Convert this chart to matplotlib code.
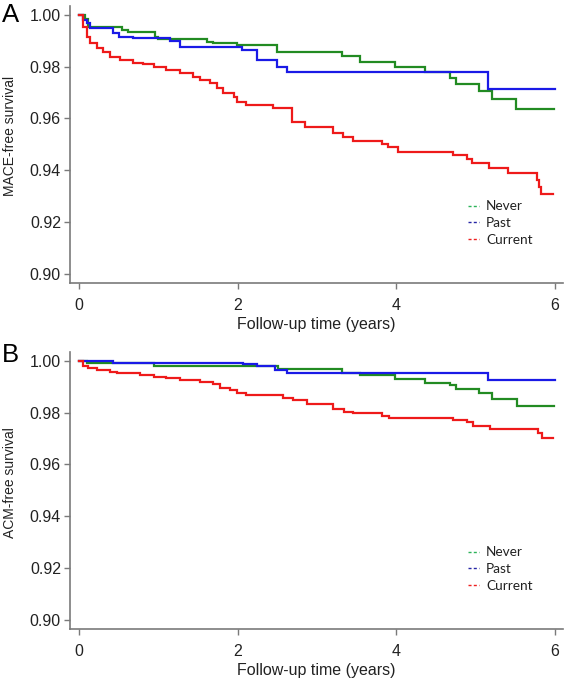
import matplotlib
matplotlib.use('Agg')
import matplotlib.pyplot as plt
from matplotlib.lines import Line2D

plt.rcParams['font.family'] = ['Liberation Sans', 'DejaVu Sans']

groups = ['Never', 'Past', 'Current']
line_colors = ['#228b22', '#1a1ae6', '#ee1a1a']
legend_colors = ['#2db35a', '#2626a6', '#ee2020']
panel_letters = ['A', 'B']
ylabels = ['MACE-free survival', 'ACM-free survival']
xlabel = 'Follow-up time (years)'
yticks = [0.90, 0.92, 0.94, 0.96, 0.98, 1.00]
xticks = [0, 2, 4, 6]

# Panel A: MACE
mace_never_t = [0, 0.07, 0.11, 0.54, 0.62, 0.96, 1.0, 1.61, 1.69, 1.99, 2.49, 3.32, 3.54, 3.98, 4.36, 4.68, 4.75, 5.04, 5.21, 5.51, 5.99]
mace_never_s = [1.0, 0.9985, 0.9954, 0.9942, 0.9934, 0.9915, 0.9907, 0.9896, 0.989, 0.9884, 0.9857, 0.9842, 0.9819, 0.980, 0.978, 0.9757, 0.9734, 0.9707, 0.9676, 0.9637, 0.9637]
mace_past_t = [0, 0.05, 0.1, 0.14, 0.43, 0.5, 0.68, 1.15, 1.27, 2.05, 2.24, 2.49, 2.62, 5.16, 6.0]
mace_past_s = [1.0, 0.998, 0.9969, 0.995, 0.993, 0.9915, 0.991, 0.990, 0.9877, 0.9865, 0.9826, 0.980, 0.978, 0.9714, 0.9714]
mace_current_t = [0, 0.05, 0.1, 0.14, 0.23, 0.3, 0.39, 0.52, 0.68, 0.81, 0.94, 1.1, 1.27, 1.44, 1.53, 1.65, 1.74, 1.82, 1.95, 1.99, 2.11, 2.45, 2.69, 2.85, 3.2, 3.33, 3.45, 3.82, 3.9, 4.02, 4.71, 4.89, 4.95, 5.17, 5.41, 5.77, 5.8, 5.82, 5.98]
mace_current_s = [1.0, 0.9954, 0.9915, 0.9892, 0.9873, 0.9857, 0.9838, 0.9824, 0.9815, 0.981, 0.980, 0.9788, 0.9776, 0.976, 0.9749, 0.9737, 0.9718, 0.9699, 0.9683, 0.9664, 0.9653, 0.9641, 0.9587, 0.9568, 0.9544, 0.9529, 0.9514, 0.9502, 0.949, 0.9471, 0.946, 0.9444, 0.9429, 0.941, 0.939, 0.9363, 0.9336, 0.9309, 0.9309]

# Panel B: ACM
acm_never_t = [0, 0.1, 0.94, 2.51, 3.32, 3.54, 3.98, 4.36, 4.68, 4.75, 5.04, 5.21, 5.52, 5.99]
acm_never_s = [1.0, 0.9992, 0.998, 0.9969, 0.9954, 0.9946, 0.9931, 0.9915, 0.9908, 0.9892, 0.9877, 0.9854, 0.9827, 0.9827]
acm_past_t = [0, 0.43, 2.07, 2.24, 2.47, 2.62, 5.16, 6.0]
acm_past_s = [1.0, 0.9992, 0.9988, 0.998, 0.9965, 0.9954, 0.9927, 0.9927]
acm_current_t = [0, 0.05, 0.11, 0.23, 0.39, 0.48, 0.77, 0.94, 1.1, 1.27, 1.53, 1.69, 1.78, 1.9, 1.99, 2.11, 2.57, 2.7, 2.87, 3.2, 3.34, 3.45, 3.82, 3.91, 4.71, 4.89, 4.97, 5.18, 5.79, 5.84, 5.98]
acm_current_s = [1.0, 0.998, 0.9973, 0.9965, 0.9958, 0.9954, 0.9946, 0.9938, 0.9935, 0.9927, 0.9919, 0.9912, 0.9896, 0.9888, 0.9877, 0.9869, 0.9858, 0.985, 0.9835, 0.9815, 0.9804, 0.98, 0.9788, 0.978, 0.9773, 0.9762, 0.975, 0.9738, 0.9723, 0.9704, 0.9704]

panels = [
    [(mace_never_t, mace_never_s), (mace_past_t, mace_past_s), (mace_current_t, mace_current_s)],
    [(acm_never_t, acm_never_s), (acm_past_t, acm_past_s), (acm_current_t, acm_current_s)],
]

W, H = 566, 678
fig = plt.figure(figsize=(W / 100, H / 100), dpi=100)
axes_px = [(70, 6, 563, 283), (70, 352, 563, 629)]
letter_px = [(2, 22), (2, 362)]
axis_gray = '#7a7a7a'
text_col = '#222222'

for i, (l, t, r, b) in enumerate(axes_px):
    ax = fig.add_axes([l / W, 1 - b / H, (r - l) / W, (b - t) / H])
    for (tt, ss), c in zip(panels[i], line_colors):
        ax.step(tt, ss, where='post', color=c, lw=1.6, solid_joinstyle='miter')
    ax.set_xlim(-0.113, 6.1)
    ax.set_ylim(0.8965, 1.0034)
    ax.set_yticks(yticks)
    ax.set_yticklabels([f'{v:.2f}' for v in yticks])
    ax.set_xticks(xticks)
    for s in ['top', 'right']:
        ax.spines[s].set_visible(False)
    for s in ['left', 'bottom']:
        ax.spines[s].set_color(axis_gray)
        ax.spines[s].set_linewidth(1.2)
    ax.tick_params(axis='both', direction='out', length=4, width=1.0, color=axis_gray,
                   labelsize=11.5, labelcolor=text_col)
    ax.tick_params(axis='y', pad=2.5)
    ax.tick_params(axis='x', pad=6.5)
    ax.set_xlabel(xlabel, fontsize=11.5, color=text_col, labelpad=3)
    ax.set_ylabel(ylabels[i], fontsize=10, color=text_col)
    ax.yaxis.set_label_coords(-0.108, 0.53)
    handles = [Line2D([0], [0], color=c, lw=1.0, linestyle=(0, (2.2, 1.6))) for c in legend_colors]
    leg = ax.legend(handles, groups, loc='upper left', bbox_to_anchor=(0.808, 0.298),
                    frameon=False, handlelength=0.8, handletextpad=0.5,
                    labelspacing=0.34, borderpad=0, borderaxespad=0,
                    prop={'family': 'Lato', 'size': 9.8})
    for txt in leg.get_texts():
        txt.set_color(text_col)
    fig.text(letter_px[i][0] / W, 1 - letter_px[i][1] / H, panel_letters[i],
             fontsize=18.5, color='black', ha='left', va='baseline')

fig.savefig('out.png', dpi=100)
